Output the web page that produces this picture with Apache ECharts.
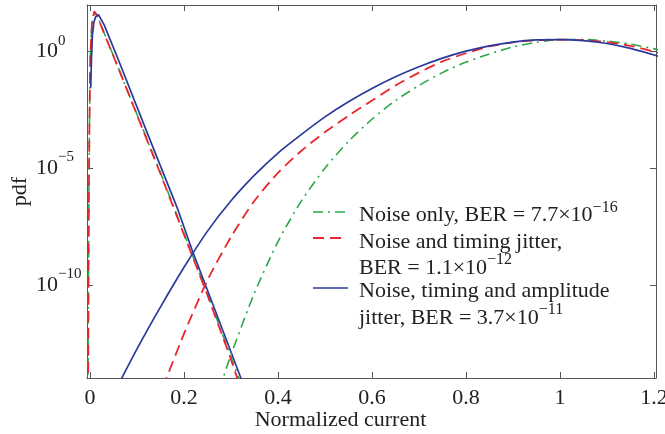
<!DOCTYPE html>
<html><head><meta charset="utf-8">
<script src="https://cdn.jsdelivr.net/npm/echarts@6/dist/echarts.min.js"></script>
<style>html,body{margin:0;padding:0;background:#fff}#c{width:665px;height:434px}</style>
</head><body><div id="c"></div>
<script>
// ---- data: [normalized current, log10(pdf)] ----
const xTicks = [0, 0.2, 0.4, 0.6, 0.8, 1, 1.2];
const yTickValues = [1e-10, 1e-5, 1];

// "0" bit distributions (left)
const noiseOnly0 = [[-0.0045,-14.5],[-0.0035,-10],[-0.0025,-6],[-0.001,-2.5],[0.001,0],[0.004,1.2],[0.009,1.72],[0.015,1.55],[0.03,0.8],[0.06,-0.68],[0.1,-2.7],[0.15,-5.2],[0.2,-7.8],[0.25,-10.4],[0.3,-13.1],[0.322,-14.3]];
const noiseTiming0 = [[-0.004,-14.5],[-0.003,-8],[-0.0015,-3.5],[0.0005,-0.2],[0.004,1.2],[0.009,1.72],[0.015,1.55],[0.03,0.78],[0.06,-0.7],[0.1,-2.72],[0.15,-5.25],[0.2,-7.85],[0.25,-10.45],[0.3,-13.2],[0.318,-14.3]];
const noiseTimingAmp0 = [[0.0015,-1.55],[0.003,-0.3],[0.005,0.7],[0.008,1.25],[0.012,1.5],[0.018,1.59],[0.03,1.15],[0.06,-0.34],[0.12,-3.4],[0.187,-6.78],[0.217,-8.5],[0.27,-11.3],[0.321,-14],[0.33,-14.5]];

// "1" bit distributions (right)
const noiseOnly1 = [[0.275,-14.5],[0.3,-13.0],[0.35,-10.35],[0.4,-8.15],[0.45,-6.4],[0.5,-5.0],[0.55,-3.85],[0.6,-2.9],[0.65,-2.1],[0.7,-1.45],[0.75,-0.9],[0.8,-0.45],[0.85,-0.1],[0.9,0.2],[0.95,0.4],[1.0,0.515],[1.05,0.52],[1.1,0.45],[1.15,0.32],[1.21,0.08]];
const noiseTiming1 = [[0.155,-14.4],[0.2,-12.1],[0.25,-9.8],[0.3,-7.95],[0.35,-6.4],[0.4,-5.2],[0.45,-4.25],[0.5,-3.45],[0.55,-2.75],[0.6,-2.1],[0.65,-1.45],[0.7,-0.9],[0.75,-0.42],[0.8,-0.07],[0.85,0.22],[0.9,0.4],[0.95,0.49],[1.0,0.515],[1.05,0.49],[1.1,0.41],[1.15,0.25],[1.21,-0.05]];
const noiseTimingAmp1 = [[0.06,-14.3],[0.1,-12.75],[0.15,-10.95],[0.2,-9.25],[0.25,-7.7],[0.3,-6.4],[0.35,-5.3],[0.4,-4.35],[0.45,-3.55],[0.5,-2.8],[0.55,-2.15],[0.6,-1.58],[0.65,-1.08],[0.7,-0.65],[0.75,-0.28],[0.8,0.02],[0.85,0.25],[0.9,0.41],[0.95,0.5],[1.0,0.515],[1.05,0.47],[1.1,0.35],[1.15,0.14],[1.21,-0.2]];

const seriesNames = ['Noise only', 'Noise and timing jitter', 'Noise, timing and amplitude jitter'];

const FONT = '"Liberation Serif","Times New Roman",serif';
const AX = '#555';
const TXT = '#222';
const GREEN = '#2aa84a', RED = '#e8262b', BLUE = '#2a3a9c';

const toPdf = arr => arr.map(p => [p[0], Math.pow(10, p[1])]);
const sup = e => (e < 0 ? '\u2212' + (-e) : String(e));

function mk(name, data, color, type, width, smooth) {
  return { name, type: 'line', data: toPdf(data), symbol: 'none', showSymbol: false,
    smooth: smooth, clip: true, lineStyle: { color, width, type }, itemStyle: { color } };
}

const xBase = { type: 'value', min: -0.0065, max: 1.2045, splitLine: { show: false },
  axisLine: { onZero: false, lineStyle: { color: AX, width: 1 } },
  axisTick: { inside: true, length: 6, customValues: xTicks, lineStyle: { color: AX } } };
const yBase = { type: 'log', min: 1e-14, max: 1e2, splitLine: { show: false },
  axisLine: { onZero: false, lineStyle: { color: AX, width: 1 } },
  axisTick: { inside: true, length: 6, customValues: yTickValues, lineStyle: { color: AX } } };

const legendRows = [
  { text: 'Noise only, BER = 7.7\u00d710{s|' + sup(-16) + '}', y: 215.5 },
  { text: 'Noise and timing jitter,', y: 242.5 },
  { text: 'BER = 1.1\u00d710{s|' + sup(-12) + '}', y: 268 },
  { text: 'Noise, timing and amplitude', y: 291 },
  { text: 'jitter, BER = 3.7\u00d710{s|' + sup(-11) + '}', y: 318 }
];

const option = {
  animation: false,
  backgroundColor: '#fff',
  grid: { left: 87, right: 9, top: 5, bottom: 56, containLabel: false, outerBoundsMode: 'none' },
  xAxis: [
    Object.assign({}, xBase, {
      position: 'bottom',
      axisLabel: { customValues: xTicks, margin: 9, fontFamily: FONT, fontSize: 22, color: TXT,
        formatter: v => String(+(+v).toFixed(1)) },
      name: 'Normalized current', nameLocation: 'middle', nameGap: 31, nameMoveOverlap: false,
      nameTextStyle: { fontFamily: FONT, fontSize: 22, color: TXT, padding: [0, 62, 0, 0] }
    }),
    Object.assign({}, xBase, { position: 'top', axisLabel: { show: false } })
  ],
  yAxis: [
    Object.assign({}, yBase, {
      position: 'left',
      axisLabel: { customValues: yTickValues, margin: 51, align: 'left',
        formatter: v => '{b|10}{s|' + sup(Math.round(Math.log10(v))) + '}',
        rich: {
          b: { fontFamily: FONT, fontSize: 22, color: TXT, lineHeight: 37 },
          s: { fontFamily: FONT, fontSize: 15, color: TXT, lineHeight: 14, verticalAlign: 'top' }
        } },
      name: 'pdf', nameLocation: 'middle', nameGap: 56, nameRotate: 90, nameMoveOverlap: false,
      nameTextStyle: { fontFamily: FONT, fontSize: 22, color: TXT }
    }),
    Object.assign({}, yBase, { position: 'right', axisLabel: { show: false } })
  ],
  series: [
    mk(seriesNames[0], noiseOnly0, GREEN, [10, 5, 2, 5], 1.6, false),
    mk(seriesNames[1], noiseTiming0, RED, [11, 6], 1.8, false),
    mk(seriesNames[2], noiseTimingAmp0, BLUE, 'solid', 1.7, false),
    mk(seriesNames[0], noiseOnly1, GREEN, [10, 5, 2, 5], 1.6, 0.25),
    mk(seriesNames[1], noiseTiming1, RED, [11, 6], 1.8, 0.25),
    mk(seriesNames[2], noiseTimingAmp1, BLUE, 'solid', 1.7, 0.25)
  ],
  graphic: [
    { type: 'line', shape: { x1: 313, y1: 212, x2: 347, y2: 212 }, style: { stroke: GREEN, lineWidth: 1.6, lineDash: [10, 5, 2, 5] }, z: 100 },
    { type: 'line', shape: { x1: 313, y1: 238, x2: 347, y2: 238 }, style: { stroke: RED, lineWidth: 1.8, lineDash: [11, 6] }, z: 100 },
    { type: 'line', shape: { x1: 313, y1: 288, x2: 348, y2: 288 }, style: { stroke: BLUE, lineWidth: 1.7 }, z: 100 }
  ].concat(legendRows.map(r => ({
    type: 'text', x: 359, y: r.y, z: 100,
    style: { text: r.text, fontFamily: FONT, fontSize: 22, fill: TXT, lineHeight: 32,
      verticalAlign: 'middle', align: 'left',
      rich: { s: { fontFamily: FONT, fontSize: 16, fill: TXT, color: TXT, lineHeight: 14, verticalAlign: 'top' } } }
  })))
};

const chart = echarts.init(document.getElementById('c'), null, { renderer: 'canvas' });
chart.setOption(option);
</script></body></html>
